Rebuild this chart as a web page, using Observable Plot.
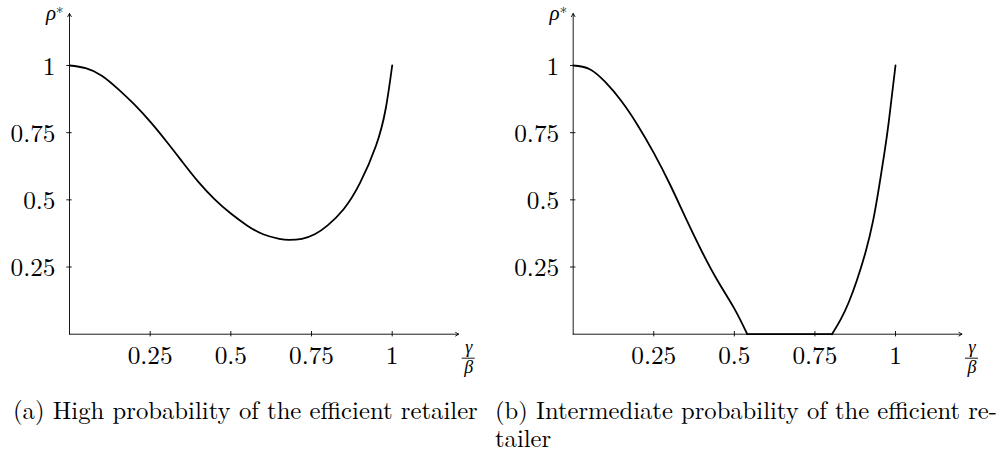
<!DOCTYPE html>
<html><head><meta charset="utf-8">
<script src="https://cdn.jsdelivr.net/npm/d3@7"></script>
<script src="https://cdn.jsdelivr.net/npm/@observablehq/plot@0.6"></script>
<style>
html,body{margin:0;padding:0;background:#fff;}
#wrap{position:relative;width:1002px;height:454px;overflow:hidden;font-family:"Latin Modern Roman","Liberation Serif",serif;}
#pa{position:absolute;left:0;top:0;}
#pb{position:absolute;left:500px;top:0;}
.cap{position:absolute;font-size:24px;line-height:28px;color:#000;white-space:nowrap;}
#capA{left:13px;top:395px;}
#capB{left:495px;top:395px;}
#capB2box{left:495px;top:423px;}
</style></head><body>
<div id="wrap"><div id="pa"></div><div id="pb"></div>
<div class="cap" id="capA"><span id="capA1"></span></div>
<div class="cap" id="capB"><span id="capB1"></span></div>
<div class="cap" id="capB2box"><span id="capB2"></span></div>
</div>
<script>
// ---- data ----
const xTicks = [0.25, 0.5, 0.75, 1];
const xTickLabels = ["0.25", "0.5", "0.75", "1"];
const yTicks = [0.25, 0.5, 0.75, 1];
const yTickLabels = ["0.25", "0.5", "0.75", "1"];

const leftX = [0, 0.05, 0.10, 0.15, 0.20, 0.25, 0.30, 0.35, 0.40, 0.45, 0.50, 0.55, 0.60, 0.65, 0.68, 0.72, 0.76, 0.80, 0.85, 0.90, 0.95, 0.98, 1.0];
const leftY = [1.0, 0.99, 0.962, 0.913, 0.856, 0.791, 0.718, 0.641, 0.566, 0.502, 0.449, 0.405, 0.372, 0.355, 0.351, 0.355, 0.372, 0.405, 0.466, 0.562, 0.702, 0.840, 1.0];

const rightDescX = [0, 0.05, 0.10, 0.15, 0.20, 0.25, 0.30, 0.35, 0.40, 0.45, 0.50, 0.54];
const rightDescY = [1.0, 0.987, 0.938, 0.867, 0.778, 0.675, 0.558, 0.430, 0.306, 0.195, 0.095, 0];
const rightFlatX = [0.54, 0.803];
const rightFlatY = [0, 0];
const rightAscX = [0.803, 0.83, 0.855, 0.88, 0.907, 0.93, 0.948, 0.965, 0.979, 1.0];
const rightAscY = [0, 0.055, 0.119, 0.20, 0.305, 0.42, 0.541, 0.67, 0.789, 1.0];

const yLabel = "ρ", yLabelSup = "*";
const xLabelNum = "γ", xLabelDen = "β";
const captionA = "(a) High probability of the efficient retailer";
const captionB1 = "(b) Intermediate probability of the efficient re-";
const captionB2 = "tailer";

// ---- drawing ----
const FONT = "'Latin Modern Roman', 'Liberation Serif', serif";
const GREEK = "'Liberation Serif', serif";
const ctx = document.createElement("canvas").getContext("2d");
ctx.font = `24px ${FONT}`;
const TICK_FS = 24 * 45 / ctx.measureText("0.75").width;

const toPts = (xs, ys, seg) => xs.map((x, i) => ({x, y: ys[i], seg}));

function panel({width, marginLeft, marginRight, points}) {
  const H = 380, mt = 65, mb = H - 333.7;
  const frameH = H - mt - mb;
  const frameW = width - marginLeft - marginRight;
  const xEnd = 1 + 66.5 / frameW;
  const yEnd = 1 + 52 / frameH;
  const tk = 2.7;
  const xt = xTicks.map((v, i) => ({v, label: xTickLabels[i]}));
  const yt = yTicks.map((v, i) => ({v, label: yTickLabels[i]}));
  const svg = Plot.plot({
    width, height: H, marginLeft, marginRight, marginTop: mt, marginBottom: mb,
    x: {domain: [0, 1], axis: null},
    y: {domain: [0, 1], axis: null},
    style: {fontFamily: FONT, background: "transparent", overflow: "visible", color: "#000"},
    marks: [
      Plot.arrow([{x1: 0, y1: 0, x2: xEnd, y2: 0}], {x1: "x1", y1: "y1", x2: "x2", y2: "y2", stroke: "#000", strokeWidth: 0.9, headLength: 6, headAngle: 60}),
      Plot.arrow([{x1: 0, y1: 0, x2: 0, y2: yEnd}], {x1: "x1", y1: "y1", x2: "x2", y2: "y2", stroke: "#000", strokeWidth: 0.9, headLength: 6, headAngle: 60}),
      Plot.tickX(xt, {x: "v", stroke: "#000", strokeWidth: 0.9, insetTop: frameH - tk, insetBottom: -tk}),
      Plot.tickY(yt, {y: "v", stroke: "#000", strokeWidth: 0.9, insetLeft: -tk, insetRight: frameW - tk}),
      Plot.text(xt, {x: "v", y: () => 0, text: "label", lineAnchor: "bottom", dy: 29.8, fontSize: TICK_FS, fontFamily: FONT, fill: "#000"}),
      Plot.text(yt, {x: () => 0, y: "v", text: "label", textAnchor: "end", lineAnchor: "bottom", dx: -14, dy: 9, fontSize: TICK_FS, fontFamily: FONT, fill: "#000"}),
      Plot.text([yLabel], {x: () => 0, y: () => yEnd, text: d => d, textAnchor: "end", lineAnchor: "bottom", dx: -13.5, dy: 6.5, fontSize: 21, fontStyle: "italic", fontFamily: GREEK, fill: "#000"}),
      Plot.text([yLabelSup], {x: () => 0, y: () => yEnd, text: d => d, textAnchor: "start", lineAnchor: "bottom", dx: -13.5, dy: 4, fontSize: 15, fontFamily: FONT, fill: "#000"}),
      Plot.text([xLabelNum], {x: () => xEnd, y: () => 0, text: d => d, textAnchor: "middle", lineAnchor: "bottom", dx: 10, dy: 19, fontSize: 18, fontStyle: "italic", fontFamily: GREEK, fill: "#000"}),
      Plot.text([xLabelDen], {x: () => xEnd, y: () => 0, text: d => d, textAnchor: "middle", lineAnchor: "bottom", dx: 10, dy: 38.5, fontSize: 18, fontStyle: "italic", fontFamily: GREEK, fill: "#000"}),
      Plot.line(points, {x: "x", y: "y", z: "seg", curve: "natural", stroke: "#000", strokeWidth: 1.8, strokeLinejoin: "round"})
    ]
  });
  const sx = svg.scale("x"), sy = svg.scale("y");
  const cx = sx.apply(xEnd) + 10, cy = sy.apply(0) + 24.5;
  d3.select(svg).append("line").attr("x1", cx - 6.5).attr("x2", cx + 6.5).attr("y1", cy).attr("y2", cy)
    .attr("stroke", "#000").attr("stroke-width", 0.9);
  return svg;
}

document.getElementById("pa").append(panel({
  width: 500, marginLeft: 69, marginRight: 500 - 391.7,
  points: toPts(leftX, leftY, "a")
}));
document.getElementById("pb").append(panel({
  width: 502, marginLeft: 72.7, marginRight: 502 - 395,
  points: [...toPts(rightDescX, rightDescY, "d"), ...toPts(rightFlatX, rightFlatY, "f"), ...toPts(rightAscX, rightAscY, "u")]
}));

// captions: scale font size so each first line spans the reference width
const a1 = document.getElementById("capA1"), b1 = document.getElementById("capB1"), b2 = document.getElementById("capB2");
a1.textContent = captionA; b1.textContent = captionB1; b2.textContent = captionB2;
function fit(span, target, boxes) {
  const w = span.getBoundingClientRect().width;
  boxes.forEach(b => b.style.fontSize = (24 * target / w) + "px");
}
fit(a1, 465, [document.getElementById("capA")]);
fit(b1, 502, [document.getElementById("capB"), document.getElementById("capB2box")]);
</script>
</body></html>
